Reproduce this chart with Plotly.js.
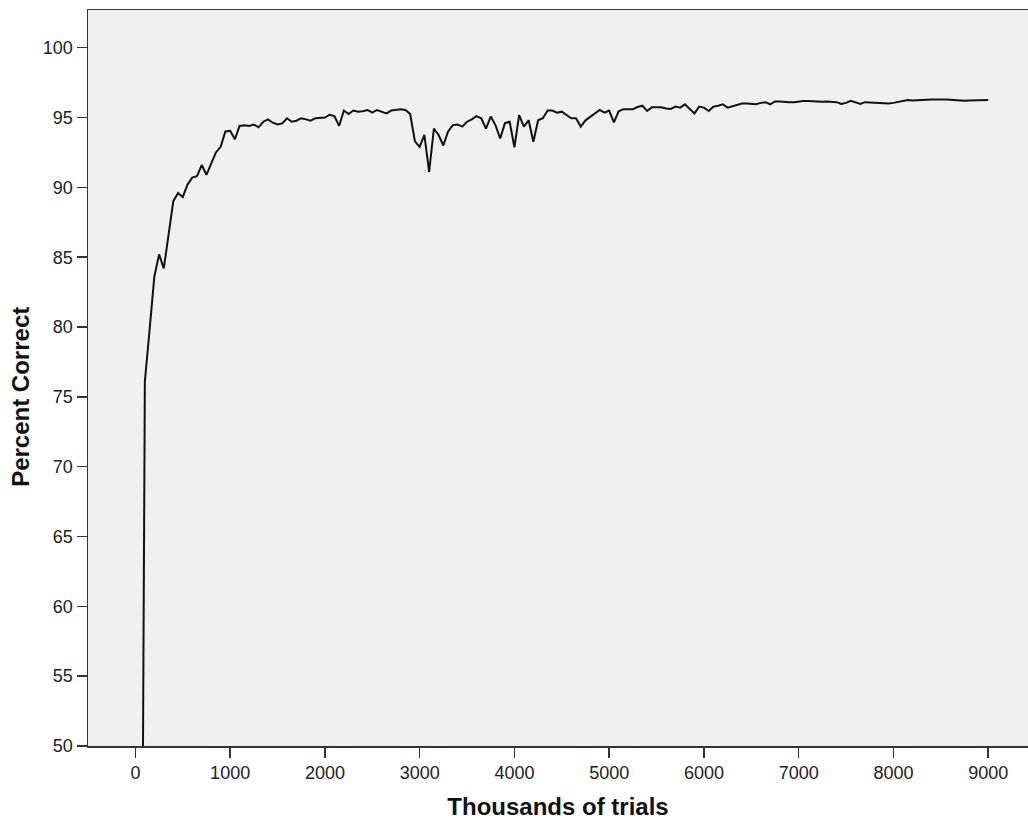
<!DOCTYPE html>
<html>
<head>
<meta charset="utf-8">
<script src="https://cdn.plot.ly/plotly-3.0.1.min.js"></script>
<style>html,body{margin:0;padding:0;background:#fff;}#chart{width:1028px;height:823px;}</style>
</head>
<body>
<div id="chart"></div>
<script>
// Thousands of trials
var trials = [50,100,150,200,250,300,350,400,450,500,550,600,650,700,750,800,850,900,950,1000,
1050,1100,1150,1200,1250,1300,1350,1400,1450,1500,1550,1600,1650,1700,1750,1800,1850,1900,1950,2000,
2050,2100,2150,2200,2250,2300,2350,2400,2450,2500,2550,2600,2650,2700,2750,2800,2850,2900,2950,3000,
3050,3100,3150,3200,3250,3300,3350,3400,3450,3500,3550,3600,3650,3700,3750,3800,3850,3900,3950,4000,
4050,4100,4150,4200,4250,4300,4350,4400,4450,4500,4550,4600,4650,4700,4750,4800,4850,4900,4950,5000,
5050,5100,5150,5200,5250,5300,5350,5400,5450,5500,5550,5600,5650,5700,5750,5800,5850,5900,5950,6000,
6050,6100,6150,6200,6250,6300,6350,6400,6450,6500,6550,6600,6650,6700,6750,6800,6850,6900,6950,7000,
7050,7100,7150,7200,7250,7300,7350,7400,7450,7500,7550,7600,7650,7700,7750,7800,7850,7900,7950,8000,
8050,8100,8150,8200,8250,8300,8350,8400,8450,8500,8550,8600,8650,8700,8750,8800,8850,8900,8950,9000];

// Percent correct
var percentCorrect = [10,76.1,79.8,83.6,85.2,84.2,86.6,89.0,89.6,89.3,90.2,90.7,90.8,91.6,90.9,91.7,92.5,92.9,94.0,94.05,
93.45,94.4,94.45,94.4,94.5,94.3,94.7,94.87,94.63,94.5,94.58,94.95,94.7,94.77,94.95,94.87,94.77,94.95,94.95,95.0,
95.2,95.1,94.4,95.5,95.25,95.5,95.42,95.45,95.54,95.35,95.54,95.42,95.3,95.5,95.55,95.6,95.54,95.25,93.3,92.9,
93.75,91.1,94.2,93.75,93.0,94.0,94.46,94.5,94.35,94.7,94.87,95.1,94.95,94.2,95.07,94.46,93.5,94.6,94.7,92.87,
95.18,94.35,94.8,93.27,94.8,94.95,95.5,95.5,95.35,95.42,95.18,94.95,94.95,94.35,94.8,95.05,95.35,95.54,95.35,95.5,
94.65,95.45,95.6,95.6,95.6,95.75,95.85,95.47,95.73,95.73,95.73,95.65,95.62,95.78,95.71,95.95,95.66,95.3,95.78,95.71,
95.47,95.78,95.85,95.95,95.71,95.8,95.88,96.0,96.0,96.0,95.95,96.05,96.1,95.95,96.15,96.15,96.1,96.1,96.1,96.15,
96.18,96.18,96.15,96.13,96.13,96.15,96.13,96.1,95.97,96.05,96.2,96.1,95.97,96.1,96.08,96.05,96.03,96.0,96.0,96.05,
96.1,96.2,96.25,96.22,96.25,96.25,96.28,96.3,96.3,96.32,96.3,96.28,96.25,96.22,96.2,96.22,96.23,96.25,96.25,96.25];

var xTitle = "Thousands of trials";
var yTitle = "Percent Correct";

var trace = {
  x: trials,
  y: percentCorrect,
  type: "scatter",
  mode: "lines",
  line: {color: "#111111", width: 2},
  hoverinfo: "x+y"
};

var tickFont = {family: "Liberation Sans, Arial, sans-serif", size: 18, color: "#222222"};
var titleFont = {family: "Liberation Sans, Arial, sans-serif", size: 24, color: "#111111", weight: "bold"};

var layout = {
  width: 1028,
  height: 823,
  margin: {l: 88, r: 0, t: 10, b: 77},
  paper_bgcolor: "#ffffff",
  plot_bgcolor: "#f0f0f0",
  showlegend: false,
  xaxis: {
    range: [-500, 9420],
    tickmode: "linear",
    tick0: 0,
    dtick: 1000,
    ticks: "outside",
    ticklen: 10,
    tickwidth: 1.5,
    tickcolor: "#333333",
    showgrid: false,
    zeroline: false,
    showline: true,
    mirror: true,
    linecolor: "#333333",
    linewidth: 1.5,
    tickfont: tickFont,
    title: {text: "<b>" + xTitle + "</b>", font: titleFont, standoff: 16}
  },
  yaxis: {
    range: [50, 102.7],
    tickmode: "linear",
    tick0: 50,
    dtick: 5,
    ticks: "outside",
    ticklen: 10,
    tickwidth: 1.5,
    tickcolor: "#333333",
    showgrid: false,
    zeroline: false,
    showline: true,
    linecolor: "#333333",
    linewidth: 1.5,
    tickfont: tickFont
  },
  annotations: [{
    text: "<b>" + yTitle + "</b>",
    font: titleFont,
    textangle: -90,
    showarrow: false,
    xref: "paper",
    x: 0,
    xanchor: "center",
    xshift: -67,
    yref: "y",
    y: 75,
    yanchor: "middle"
  }]
};

Plotly.newPlot("chart", [trace], layout, {displayModeBar: false, staticPlot: true});
</script>
</body>
</html>
